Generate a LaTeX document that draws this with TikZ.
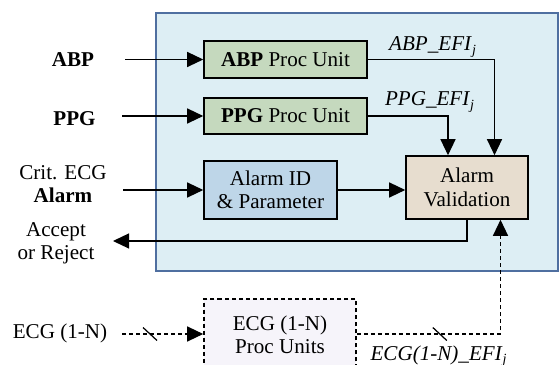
\documentclass[tikz,border=0pt]{standalone}
\usepackage{fontspec}
\setmainfont{Liberation Serif}
\usepackage{tikz}
\usetikzlibrary{calc,arrows.meta}

\definecolor{panelfill}{HTML}{DDEEF4}
\definecolor{paneledge}{HTML}{4F6FA0}
\definecolor{procfill}{HTML}{C5D9BE}
\definecolor{idfill}{HTML}{BED6E8}
\definecolor{valfill}{HTML}{E7DDCF}
\definecolor{ecgfill}{HTML}{F6F4FA}

\begin{document}
\begin{tikzpicture}[
    font=\fontsize{12}{13.3}\selectfont,
    >={Triangle[length=0.32cm,width=0.3cm]},
    arr/.style={->, line width=0.7pt},
    dsh/.style={dash pattern=on 2.3pt off 1.7pt},
    panel/.style={draw=paneledge, fill=panelfill, line width=1.2pt, rectangle},
    block/.style={draw, line width=0.9pt, rectangle, align=center}
]
    \useasboundingbox (0,0) rectangle (11.18,7.28);

    % Outer panel
    \node[panel, minimum width=8.04cm, minimum height=5.16cm] (P) at (7.14, 4.44) {};

    % Blocks
    \node[block, fill=procfill, minimum width=3.26cm, minimum height=0.74cm] (A) at (5.71, 6.09) {\textbf{ABP} Proc Unit};
    \node[block, fill=procfill, minimum width=3.26cm, minimum height=0.72cm] (B) at (5.71, 4.96) {\textbf{PPG} Proc Unit};
    \node[block, fill=idfill, minimum width=2.66cm, minimum height=1.16cm] (I) at (5.41, 3.48) {Alarm ID\\\& Parameter};
    \node[block, fill=valfill, minimum width=2.44cm, minimum height=1.26cm] (V) at (9.34, 3.53) {Alarm\\Validation};
    \node[block, dsh, fill=ecgfill, minimum width=3.04cm, minimum height=1.44cm] (E) at (5.6, 0.58) {ECG (1-N)\\Proc Units};

    % Inputs
    \coordinate (abpin) at (2.5, 6.09);
    \coordinate (ppgin) at (2.44, 4.96);
    \coordinate (critin) at (2.46, 3.48);
    \coordinate (ecgin) at (2.44, 0.6);
    \coordinate (out) at (2.26, 2.46);

    \node[font=\fontsize{12}{13.3}\selectfont\bfseries] (abp) at (1.46, 6.08) {ABP};
    \node[font=\fontsize{12}{13.3}\selectfont\bfseries] (ppg) at (1.49, 4.9) {PPG};
    \node[align=center] (crit) at (1.26, 3.6) {Crit. ECG\\\textbf{Alarm}};
    \node[align=center] (acc) at (1.12, 2.42) {Accept\\or Reject};
    \node (ecg) at (1.2, 0.62) {ECG (1-N)};

    \draw[arr] (abpin) -- (A.west);
    \draw[arr] (ppgin) -- (B.west);
    \draw[arr] (critin) -- (I.west);
    \draw[arr] (I.east) -- (I.east -| V.west);

    % Feature outputs into validation
    \draw[arr] (A.east) -| ($(V.north) + (0.55, 0)$);
    \draw[arr] (B.east) -| ($(V.north) + (-0.38, 0)$);
    \node (abpefi) at (8.66, 6.34) {\textit{ABP\_EFI}\textsubscript{\textit{j}}};
    \node (ppgefi) at (8.6, 5.24) {\textit{PPG\_EFI}\textsubscript{\textit{j}}};

    % Decision
    \draw[arr] (V.south) |- (out);

    % ECG channels (dashed)
    \draw[arr, dsh] (ecgin) -- (ecgin -| E.west);
    \draw[arr, dsh] (ecgin -| E.east) -| ($(V.south) + (0.67, 0)$);
    \draw[line width=0.7pt] ($(ecgin) + (0.42, 0.13)$) -- ++(0.28, -0.26);
    \draw[line width=0.7pt] ($(ecgin -| E.east) + (1.52, 0.13)$) -- ++(0.28, -0.26);
    \node (ecgefi) at (8.78, 0.16) {\textit{ECG(1-N)\_EFI}\textsubscript{\textit{j}}};

\end{tikzpicture}
\end{document}
